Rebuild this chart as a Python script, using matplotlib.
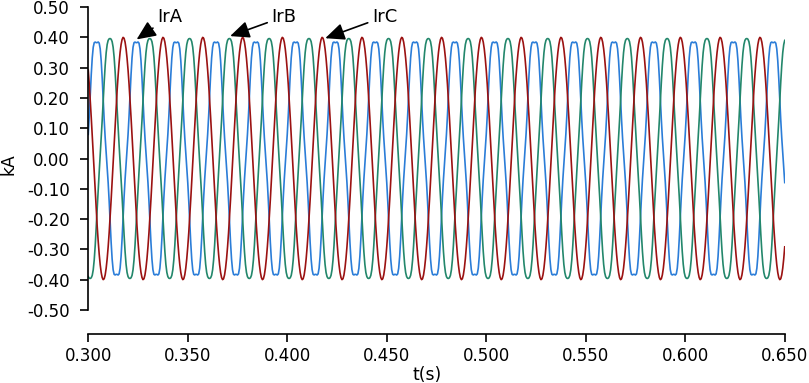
import numpy as np
import matplotlib
matplotlib.use("Agg")
import matplotlib.pyplot as plt

# --- Données ---
phase_names = ["IrA", "IrB", "IrC"]
phase_colors = ["#2b7dd8", "#23876b", "#9b1212"]
peak_kA = [0.382, 0.396, 0.400]          # amplitude crête de chaque phase
first_peak_s = [0.3042, 0.3109, 0.3176]  # instant du premier maximum
flat_top = [0.022, 0.012, 0.0]           # aplatissement (5e harmonique)
freq_hz = 50.0
t_start, t_end, dt = 0.300, 0.650, 0.0005

# flèches : (pointe x, pointe y, texte x, texte y)
arrow_tip_x = [0.3243, 0.3713, 0.4191]
arrow_tip_y = [0.393, 0.404, 0.397]
label_x = [0.3345, 0.3920, 0.4425]
label_y = [0.468, 0.468, 0.468]

x_ticks = [0.300, 0.350, 0.400, 0.450, 0.500, 0.550, 0.600, 0.650]
y_ticks = [-0.50, -0.40, -0.30, -0.20, -0.10, 0.00, 0.10, 0.20, 0.30, 0.40, 0.50]

plt.rcParams["font.family"] = ["DejaVu Sans"]
plt.rcParams["axes.unicode_minus"] = False
FS = 12

fig = plt.figure(figsize=(8.09, 3.83), dpi=100)
ax = fig.add_axes([0.1091, 0.1906, 0.8609, 0.7911])

t = np.arange(t_start, t_end + dt / 2, dt)
w = 2 * np.pi * freq_hz
for name, col, amp, tp, h5 in zip(phase_names, phase_colors, peak_kA, first_peak_s, flat_top):
    theta = w * (t - tp)
    i = (amp + h5) * np.cos(theta) - h5 * np.cos(5 * theta)
    ax.plot(t, i, color=col, lw=1.2, label=name)

for name, tx, ty, lx, ly in zip(phase_names, arrow_tip_x, arrow_tip_y, label_x, label_y):
    ax.annotate(name, xy=(tx, ty), xytext=(lx, ly), ha="left", va="center",
                fontsize=13,
                arrowprops=dict(arrowstyle="-|>,head_length=0.9,head_width=0.4",
                                color="black", lw=1.2, shrinkA=1, shrinkB=0))

ax.set_xlim(t_start, t_end)
ax.set_ylim(-0.5, 0.5)
ax.set_xticks(x_ticks)
ax.set_yticks(y_ticks)
ax.set_xticklabels([f"{v:.3f}" for v in x_ticks])
ax.set_yticklabels([f"{v:.2f}" for v in y_ticks])

for s in ["top", "right"]:
    ax.spines[s].set_visible(False)
ax.spines["bottom"].set_position(("outward", 17))
ax.spines["left"].set_linewidth(1.2)
ax.spines["bottom"].set_linewidth(1.2)
ax.tick_params(axis="both", direction="out", length=6, width=1.2, labelsize=FS)
ax.tick_params(axis="x", pad=3.5)
ax.tick_params(axis="y", pad=7.5)

ax.set_xlabel("t(s)", fontsize=12.3)
ax.set_ylabel("kA", fontsize=12.3)
ax.xaxis.set_label_coords(0.487, -0.185)
ax.yaxis.set_label_coords(-0.101, 0.48)

fig.savefig("out.png", dpi=100)
